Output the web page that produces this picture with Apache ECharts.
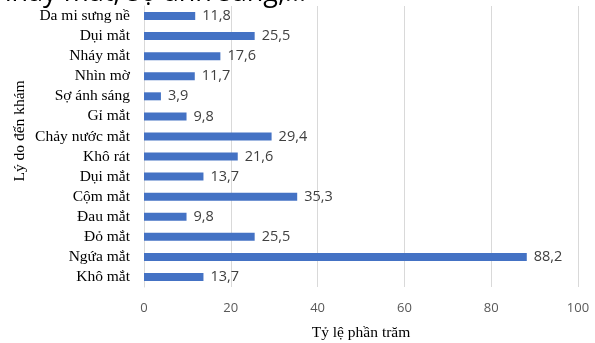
<!DOCTYPE html>
<html>
<head>
    <meta charset="utf-8">
    <title>Lý do đến khám</title>
    <script src="https://cdn.jsdelivr.net/npm/echarts@6/dist/echarts.min.js"></script>
    <style>
        html, body { margin: 0; padding: 0; background: #fff; }
    </style>
</head>
<body>
    <div id="main" style="width:595px; height:343px;"></div>
    <script>
        // categories, top to bottom as in the picture
        var reasons = ['Da mi sưng nề', 'Dụi mắt', 'Nháy mắt', 'Nhìn mờ', 'Sợ ánh sáng', 'Gỉ mắt',
            'Chảy nước mắt', 'Khô rát', 'Dụi mắt', 'Cộm mắt', 'Đau mắt', 'Đỏ mắt', 'Ngứa mắt', 'Khô mắt']
        var percents = [11.8, 25.5, 17.6, 11.7, 3.9, 9.8, 29.4, 21.6, 13.7, 35.3, 9.8, 25.5, 88.2, 13.7]
        var xTicks = [0, 20, 40, 60, 80, 100]

        var myChart = echarts.init(document.querySelector('#main'))

        // category axis goes bottom->top, so feed reversed
        var cats = reasons.map(function(r, i) { return i + '|' + r }).reverse()
        var vals = percents.slice().reverse()

        var option = {
            animation: false,
            grid: {
                left: 144,
                right: 17,
                top: 6,
                bottom: 56,
                outerBoundsMode: 'none'
            },
            graphic: [
                {
                    // tail of the paragraph above the chart, cut off by the crop
                    type: 'text',
                    x: -5,
                    y: 7,
                    style: {
                        text: 'nháy mắt, sợ ánh sáng,...',
                        font: '27px "Open Sans"',
                        fill: '#000',
                        verticalAlign: 'bottom'
                    }
                },
                {
                    type: 'text',
                    x: 20,
                    y: 131,
                    rotation: Math.PI / 2,
                    style: {
                        text: 'Lý do đến khám',
                        font: '15.5px "Liberation Serif"',
                        fill: '#000',
                        align: 'center',
                        verticalAlign: 'middle'
                    }
                }
            ],
            xAxis: {
                type: 'value',
                min: xTicks[0],
                max: xTicks[xTicks.length - 1],
                interval: 20,
                axisLine: { show: false },
                axisTick: { show: false },
                splitLine: { lineStyle: { color: '#d9d9d9', width: 1 } },
                axisLabel: {
                    color: '#595959',
                    fontFamily: 'Open Sans',
                    fontSize: 13,
                    margin: 15
                },
                name: 'Tỷ lệ phần trăm',
                nameLocation: 'middle',
                nameGap: 38,
                nameTextStyle: {
                    color: '#000',
                    fontFamily: 'Liberation Serif',
                    fontSize: 15.5
                }
            },
            yAxis: {
                type: 'category',
                data: cats,
                axisLine: { show: true, lineStyle: { color: '#d9d9d9' } },
                axisTick: { show: false },
                axisLabel: {
                    interval: 0,
                    color: '#000',
                    fontFamily: 'Liberation Serif',
                    fontSize: 15.5,
                    margin: 14,
                    formatter: function(v) { return v.split('|')[1] }
                }
            },
            series: [
                {
                    type: 'bar',
                    data: vals,
                    barWidth: 8,
                    itemStyle: { color: '#4472c4' },
                    label: {
                        show: true,
                        position: 'right',
                        distance: 7,
                        color: '#404040',
                        fontFamily: 'Open Sans',
                        fontSize: 14.5,
                        formatter: function(p) { return String(p.value).replace('.', ',') }
                    }
                }
            ]
        }

        myChart.setOption(option)
    </script>
</body>
</html>
